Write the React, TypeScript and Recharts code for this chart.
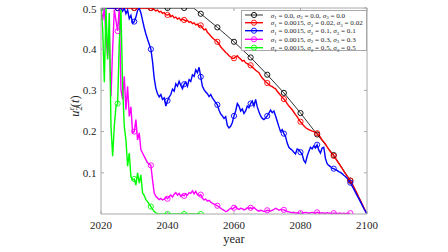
import { Line, LineChart, ReferenceLine, XAxis, YAxis } from "recharts"

const start = 2020
const step = 0.5
const xTicks = [2020, 2040, 2060, 2080, 2100]
const yTicks = [0.1, 0.2, 0.3, 0.4, 0.5]

// deterministic run (no noise)
const detYears = [2020, 2025, 2030, 2035, 2040, 2045, 2047.8, 2050, 2055, 2060, 2065, 2070, 2075, 2080, 2085, 2090, 2095, 2100]
const detValues = [0.5, 0.5, 0.5, 0.5, 0.5, 0.5, 0.5, 0.486, 0.453, 0.418, 0.38, 0.338, 0.294, 0.245, 0.193, 0.143, 0.081, 0]

// noisy runs, one value every half year from 2020 (one row = 5 years)
const redValues = [
  0.5, 0.5, 0.5, 0.5, 0.5, 0.5, 0.5, 0.5, 0.5, 0.5,
  0.5, 0.5, 0.5, 0.5, 0.5, 0.5, 0.5, 0.5, 0.5, 0.5,
  0.5, 0.5, 0.5, 0.5, 0.5, 0.5, 0.5, 0.5, 0.5, 0.5,
  0.5, 0.498, 0.496, 0.493, 0.495, 0.49, 0.492, 0.487, 0.489, 0.484,
  0.483, 0.485, 0.479, 0.482, 0.476, 0.478, 0.473, 0.476, 0.47, 0.473,
  0.471, 0.468, 0.47, 0.465, 0.467, 0.462, 0.464, 0.459, 0.461, 0.456,
  0.458, 0.452, 0.447, 0.449, 0.441, 0.437, 0.432, 0.428, 0.424, 0.421,
  0.418, 0.412, 0.406, 0.401, 0.397, 0.392, 0.389, 0.384, 0.381, 0.378,
  0.378, 0.381, 0.384, 0.379, 0.376, 0.371, 0.373, 0.367, 0.365, 0.362,
  0.361, 0.356, 0.353, 0.349, 0.346, 0.343, 0.336, 0.33, 0.326, 0.321,
  0.318, 0.314, 0.311, 0.309, 0.306, 0.304, 0.298, 0.293, 0.288, 0.283,
  0.279, 0.274, 0.268, 0.262, 0.258, 0.253, 0.247, 0.241, 0.236, 0.229,
  0.224, 0.219, 0.214, 0.21, 0.207, 0.205, 0.203, 0.201, 0.2, 0.198,
  0.196, 0.192, 0.186, 0.18, 0.175, 0.17, 0.163, 0.157, 0.151, 0.146,
  0.141, 0.135, 0.129, 0.123, 0.117, 0.111, 0.104, 0.098, 0.092, 0.087,
  0.081, 0.074, 0.066, 0.058, 0.05, 0.041, 0.033, 0.025, 0.016, 0.008,
  0,
]

const blueValues = [
  0.5, 0.5, 0.5, 0.5, 0.5, 0.5, 0.5, 0.5, 0.5, 0.5,
  0.5, 0.5, 0.5, 0.492, 0.5, 0.486, 0.495, 0.474, 0.482, 0.463,
  0.467, 0.478, 0.494, 0.5, 0.488, 0.47, 0.452, 0.437, 0.424, 0.412,
  0.4, 0.37, 0.33, 0.305, 0.292, 0.284, 0.29, 0.278, 0.282, 0.262,
  0.275, 0.284, 0.29, 0.303, 0.298, 0.316, 0.31, 0.322, 0.312, 0.304,
  0.315, 0.32, 0.31, 0.326, 0.322, 0.338, 0.334, 0.35, 0.343, 0.356,
  0.333, 0.31, 0.302, 0.296, 0.292, 0.285, 0.29, 0.282, 0.276, 0.27,
  0.265, 0.252, 0.243, 0.238, 0.232, 0.236, 0.215, 0.209, 0.213, 0.222,
  0.238, 0.25, 0.268, 0.262, 0.25, 0.255, 0.244, 0.25, 0.262, 0.258,
  0.268, 0.274, 0.262, 0.278, 0.26, 0.248, 0.238, 0.232, 0.229, 0.233,
  0.238, 0.245, 0.252, 0.246, 0.25, 0.238, 0.225, 0.212, 0.2, 0.205,
  0.195, 0.188, 0.172, 0.162, 0.158, 0.155, 0.15, 0.146, 0.158, 0.156,
  0.15, 0.145, 0.13, 0.124, 0.14, 0.152, 0.162, 0.158, 0.165, 0.16,
  0.168, 0.155, 0.148, 0.16, 0.162, 0.135, 0.122, 0.118, 0.115, 0.111,
  0.11, 0.108, 0.106, 0.103, 0.101, 0.098, 0.094, 0.091, 0.087, 0.081,
  0.076, 0.068, 0.061, 0.053, 0.045, 0.038, 0.03, 0.022, 0.014, 0.007,
  0,
]

const magentaValues = [
  0.5, 0.47, 0.5, 0.43, 0.383, 0.44, 0.286, 0.4, 0.496, 0.47,
  0.444, 0.5, 0.302, 0.278, 0.334, 0.253, 0.31, 0.237, 0.26, 0.197,
  0.2, 0.229, 0.18, 0.197, 0.156, 0.148, 0.14, 0.132, 0.124, 0.121,
  0.118, 0.083, 0.051, 0.043, 0.039, 0.035, 0.038, 0.034, 0.036, 0.041,
  0.037, 0.042, 0.046, 0.041, 0.048, 0.052, 0.046, 0.05, 0.043, 0.047,
  0.044, 0.049, 0.046, 0.052, 0.05, 0.056, 0.049, 0.055, 0.047, 0.045,
  0.047, 0.038, 0.034, 0.036, 0.031, 0.033, 0.029, 0.026, 0.024, 0.022,
  0.02, 0.017, 0.014, 0.011, 0.009, 0.006, 0.007, 0.011, 0.014, 0.012,
  0.015, 0.018, 0.013, 0.011, 0.014, 0.013, 0.01, 0.012, 0.015, 0.014,
  0.015, 0.013, 0.016, 0.012, 0.009, 0.007, 0.009, 0.008, 0.006, 0.007,
  0.009, 0.008, 0.007, 0.009, 0.011, 0.014, 0.012, 0.009, 0.011, 0.01,
  0.01, 0.008, 0.006, 0.005, 0.004, 0.003, 0.004, 0.002, 0.003, 0.002,
  0.002, 0.002, 0.003, 0.004, 0.003, 0.002, 0.003, 0.004, 0.003, 0.002,
  0.004, 0.003, 0.002, 0.003, 0.002, 0.002, 0.003, 0.002, 0.002, 0.001,
  0.002, 0.002, 0.001, 0.002, 0.002, 0.001, 0.002, 0.001, 0.002, 0.001,
  0.002,
]

const greenValues = [
  0.5, 0.45, 0.32, 0.5, 0.375, 0.488, 0.213, 0.14, 0.213, 0.261,
  0.268, 0.415, 0.496, 0.31, 0.213, 0.18, 0.116, 0.148, 0.09, 0.083,
  0.085, 0.07, 0.1, 0.075, 0.095, 0.051, 0.045, 0.035, 0.03, 0.024,
  0.018, 0.012, 0.006, 0.003, 0.001, 0, 0, 0, 0, 0,
  0, 0, 0, 0, 0, 0, 0, 0, 0, 0,
  0, 0, 0, 0, 0, 0, 0, 0, 0, 0,
  0,
]

const sigma1 = ["0.0", "0.0015", "0.0015", "0.0015", "0.0015"]
const sigma2 = ["0.0", "0.02", "0.1", "0.3", "0.5"]
const sigma3 = ["0.0", "0.02", "0.1", "0.3", "0.5"]

const colors = ["#000000", "#ff0000", "#0000ff", "#ff00ff", "#00ff00"]
const axisColor = "#a8a8a8"
const textColor = "#262626"
const serif = "'Liberation Serif', 'Times New Roman', serif"

const halfYears = (vals: number[]) => vals.map((y, i) => ({ x: start + i * step, y }))

const series = [
  { key: "det", data: detYears.map((x, i) => ({ x, y: detValues[i] })), width: 0.8 },
  { key: "s02", data: halfYears(redValues), width: 1.4 },
  { key: "s1", data: halfYears(blueValues), width: 1.4 },
  { key: "s3", data: halfYears(magentaValues), width: 1.4 },
  { key: "s5", data: halfYears(greenValues), width: 1.4 },
]

const marker = (color: string) => (p: any) => {
  const { cx, cy, payload, index } = p
  if (payload.x % 5 !== 0 || payload.x >= 2100) return <g key={`n${index}`} />
  return <circle key={`m${index}`} cx={cx} cy={cy} r={2.6} fill="none" stroke={color} strokeWidth={0.9} />
}

const XTick = (p: any) => {
  const { x, y, payload } = p
  return (
    <g>
      <line x1={x} y1={y} x2={x} y2={y - 3} stroke={axisColor} />
      <text x={x} y={y + 15} textAnchor="middle" fontSize={11} fontFamily={serif} fill={textColor}>
        {payload.value}
      </text>
    </g>
  )
}

const YTick = (p: any) => {
  const { x, y, payload } = p
  return (
    <g>
      <line x1={x} y1={y} x2={x + 3} y2={y} stroke={axisColor} />
      <text x={x - 4.5} y={y + 3.7} textAnchor="end" fontSize={11} fontFamily={serif} fill={textColor}>
        {payload.value}
      </text>
    </g>
  )
}

// short inward tick at the top end of a vertical reference line
const TopTick = (p: any) => {
  const top = Math.min(p.y1, p.y2)
  return <line x1={p.x1} y1={top} x2={p.x1} y2={top + 3} stroke={axisColor} />
}

// short inward tick at the right end of a horizontal reference line
const RightTick = (p: any) => {
  const right = Math.max(p.x1, p.x2)
  return <line x1={right} y1={p.y1} x2={right - 3} y2={p.y1} stroke={axisColor} />
}

const XTitle = () => (
  <text x={234} y={242.5} textAnchor="middle" fontSize={12.5} fontFamily={serif} fill={textColor}>
    year
  </text>
)

const YTitle = () => (
  <text transform="translate(79,106) rotate(-90)" textAnchor="middle" fontSize={12.5} fontFamily={serif} fill={textColor}>
    <tspan fontStyle="italic">u</tspan>
    <tspan fontSize={8.5} dy={2.5}>2</tspan>
    <tspan fontSize={8.5} fontStyle="italic" dx={-4.3} dy={-8}>ε</tspan>
    <tspan dy={5.5}>(</tspan>
    <tspan fontStyle="italic">t</tspan>
    <tspan>)</tspan>
  </text>
)

const LegendLabel = ({ i, y }: { i: number; y: number }) => {
  const vals = [sigma1[i], sigma2[i], sigma3[i]]
  return (
    <text x={28.7} y={y + 2.5} fontSize={7.1} fontFamily={serif} fill={textColor}>
      {vals.map((v, k) => [
        <tspan key={`s${k}`} fontStyle="italic">σ</tspan>,
        <tspan key={`i${k}`} fontSize={5} dy={1.5}>{k + 1}</tspan>,
        <tspan key={`v${k}`} dy={-1.5}>{` = ${v}${k < 2 ? ", " : ""}`}</tspan>,
      ])}
    </text>
  )
}

const rowY = [4, 11.7, 19.7, 28.3, 36.7]

function ChartLegend() {
  return (
    <div
      style={{
        position: "absolute",
        left: 241,
        top: 10,
        width: 124,
        height: 39,
        border: `1px solid ${axisColor}`,
        background: "#ffffff",
      }}
    >
      <svg width={124} height={39} style={{ display: "block", overflow: "visible" }}>
        {rowY.map((y, i) => (
          <g key={i}>
            <line x1={3} y1={y} x2={21} y2={y} stroke={colors[i]} strokeWidth={i === 0 ? 0.8 : 1.4} />
            <circle cx={12} cy={y} r={2.6} fill="none" stroke={colors[i]} strokeWidth={0.9} />
            <LegendLabel i={i} y={y} />
          </g>
        ))}
      </svg>
    </div>
  )
}

export default function App() {
  return (
    <div style={{ position: "absolute", left: 0, top: 0, width: 448, height: 252, background: "#fff" }}>
      <LineChart width={448} height={252} margin={{ top: 8, right: 81, bottom: 0, left: 0 }}>
        <XAxis
          type="number"
          dataKey="x"
          domain={[2020, 2100]}
          ticks={xTicks}
          height={38}
          tickSize={0}
          tickMargin={0}
          tickLine={false}
          stroke={axisColor}
          tick={<XTick />}
          label={<XTitle />}
          allowDataOverflow
        />
        <YAxis
          type="number"
          domain={[0, 0.5]}
          ticks={yTicks}
          width={101}
          tickSize={0}
          tickMargin={0}
          tickLine={false}
          stroke={axisColor}
          tick={<YTick />}
          label={<YTitle />}
          allowDataOverflow
        />
        {/* box: top and right borders with inward ticks */}
        <ReferenceLine y={0.5} stroke={axisColor} />
        <ReferenceLine x={2100} stroke={axisColor} />
        {xTicks.map((t) => (
          <ReferenceLine key={`tx${t}`} x={t} stroke="none" shape={<TopTick />} />
        ))}
        {yTicks.map((t) => (
          <ReferenceLine key={`ty${t}`} y={t} stroke="none" shape={<RightTick />} />
        ))}
        {series.map((s, i) => (
          <Line
            key={s.key}
            data={s.data}
            dataKey="y"
            type="linear"
            stroke={colors[i]}
            strokeWidth={s.width}
            dot={marker(colors[i])}
            activeDot={false}
            isAnimationActive={false}
          />
        ))}
      </LineChart>
      <ChartLegend />
    </div>
  )
}
